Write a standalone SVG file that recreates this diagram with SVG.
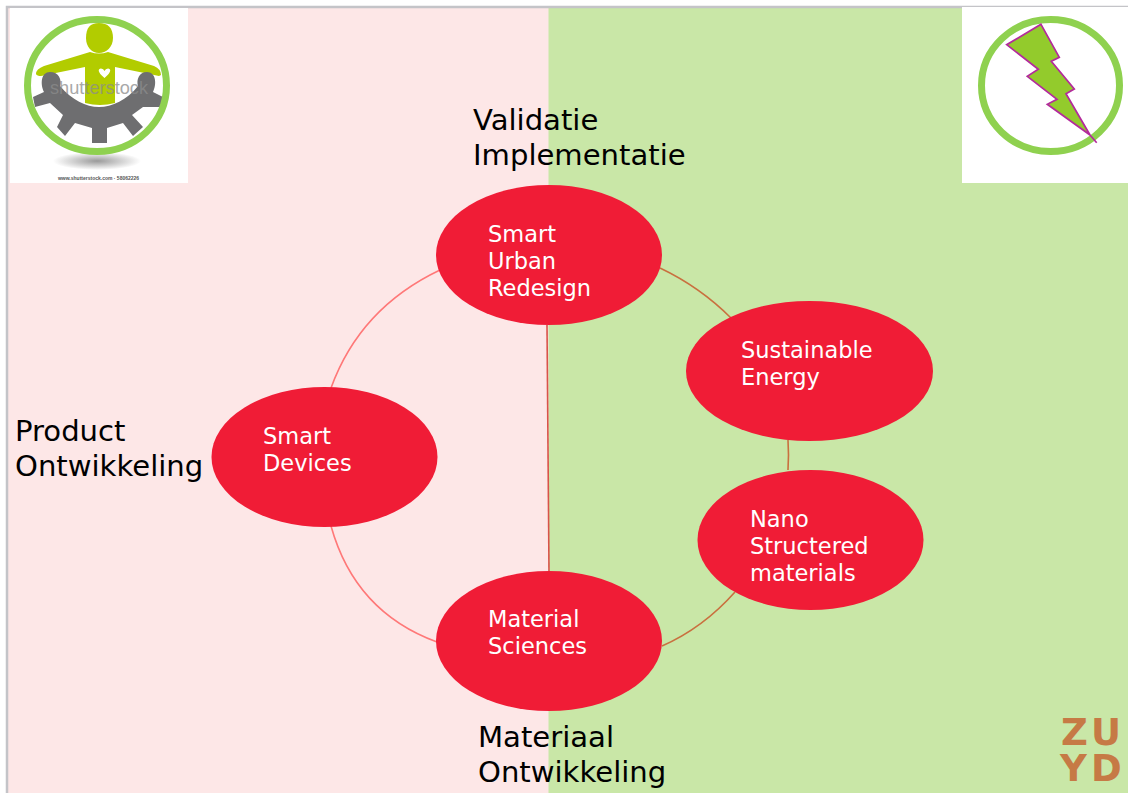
<svg xmlns="http://www.w3.org/2000/svg" width="1128" height="793" viewBox="0 0 1128 793">
<style>
.lbl{font-family:"DejaVu Sans",Verdana,sans-serif;font-size:29.1px;fill:#000}
.in{font-family:"DejaVu Sans",Verdana,sans-serif;font-size:22.5px;fill:#fff}
.el{fill:#f01c36}
.ring{fill:none;stroke:#8fd14f;stroke-width:7}
.pink{fill:none;stroke:#ff7878;stroke-width:1.6}
.brown{fill:none;stroke:#c9703f;stroke-width:1.6}
</style>
<defs>
<radialGradient id="shadow"><stop offset="0" stop-color="#9a9a9a"/><stop offset="1" stop-color="#fff"/></radialGradient>
</defs>
<rect width="1128" height="793" fill="#fff"/>
<rect x="8" y="7" width="541" height="786" fill="#fde7e7"/>
<rect x="548.500" y="7" width="579.500" height="786" fill="#c9e7a7"/>
<path d="M7 793V7H1128" fill="none" stroke="#c4c4c8" stroke-width="2.500"/>
<g id="logo-left">
<rect x="10" y="8" width="178" height="175" fill="#fff"/>
<ellipse cx="97" cy="161" rx="44" ry="9" fill="url(#shadow)"/>
<path d="M36 74 Q36 69 44 66 L90 52 Q99 55 108 52 L154 66 Q161 69 161 75 L159 76 L115 67 V103 Q100 107 85 103 V67 L41 76 Q37 76 36 74Z" fill="#b2cc00"/>
<path d="M86 38 C86 28 90 23 99 23 C108 23 113 28 113 38 C113 47 106 53 99 53 C92 53 86 47 86 38Z" fill="#b2cc00"/>
<path d="M104.500 78 C97 72 98 68.500 101 68.500 Q103.500 68.500 104.500 71 Q105.500 68.500 108 68.500 C111 68.500 112 72 104.500 78Z" fill="#fff"/>
<path d="M33 97 L44 92 C40 84 41 72 50 72 C59 72 62 80 60 86 C72 100 86 107 99 107 C112 107 127 100 138 86 C136 80 139 72 147 72 C156 72 157 84 153 92 L163 97 L161 107 L143 107 L132 115 L143 127 L133 136 L123 123 L107 128 V143 H92 V128 L75 123 L65 136 L57 127 L63 115 L50 103 L35 107 Z" fill="#6e6e70"/>
<text x="50" y="94" textLength="98" lengthAdjust="spacingAndGlyphs" font-family="'Liberation Sans',sans-serif" font-size="19" fill="#8c8c8c" opacity=".75">shutterstock</text>
<text x="98.500" y="180" text-anchor="middle" font-family="'Liberation Sans',sans-serif" font-size="5" font-weight="bold" fill="#555">www.shutterstock.com · 58062226</text>
<ellipse cx="97" cy="85.500" rx="69.500" ry="66" class="ring"/>
</g>
<g id="logo-right">
<rect x="962" y="7" width="166" height="176" fill="#fff"/>
<ellipse cx="1050.500" cy="85.500" rx="69" ry="66" class="ring"/>
<path d="M1041 24.300 1059.300 57.300 1051.300 61.300 1074.300 89 1066 93.700 1090 135 1047.300 104.300 1057 99.300 1027.300 76.300 1038.300 69.300 1006.700 44.700Z M1090 135 1096.700 142.700" fill="#93cb2c" stroke="#b32a9c" stroke-width="1.700"/>
</g>
<g id="connectors">
<path class="pink" d="M440 270 Q360 308 331 388"/>
<path class="pink" d="M331 526 Q355 612 437 642"/>
<path class="brown" d="M660 268 Q700 287 731 318"/>
<path class="brown" d="M788 440 Q789 455 788 470"/>
<path class="brown" d="M735 592 Q703 628 662 646"/>
<path d="M547 325 L549 571" fill="none" stroke="#d9534a" stroke-width="1.600"/>
</g>
<g id="smart-urban"><ellipse class="el" cx="549" cy="255" rx="113" ry="70"/>
<text class="in" x="488" y="242">Smart</text><text class="in" x="488" y="269">Urban</text><text class="in" x="488" y="296">Redesign</text></g>
<g id="sustainable-energy"><ellipse class="el" cx="809.500" cy="371" rx="123.500" ry="70"/>
<text class="in" x="741" y="358">Sustainable</text><text class="in" x="741" y="385">Energy</text></g>
<g id="smart-devices"><ellipse class="el" cx="324.500" cy="457" rx="113" ry="70"/>
<text class="in" x="263" y="444">Smart</text><text class="in" x="263" y="471">Devices</text></g>
<g id="nano"><ellipse class="el" cx="810.500" cy="540" rx="113" ry="70"/>
<text class="in" x="750" y="527">Nano</text><text class="in" x="750" y="554">Structered</text><text class="in" x="750" y="581">materials</text></g>
<g id="material-sciences"><ellipse class="el" cx="549" cy="641" rx="113" ry="70"/>
<text class="in" x="488" y="627">Material</text><text class="in" x="488" y="654">Sciences</text></g>
<g id="labels">
<text class="lbl" x="473" y="130">Validatie</text><text class="lbl" x="473" y="165">Implementatie</text>
<text class="lbl" x="15" y="441">Product</text><text class="lbl" x="15" y="476">Ontwikkeling</text>
<text class="lbl" x="478" y="747">Materiaal</text><text class="lbl" x="478" y="782">Ontwikkeling</text>
</g>
<g id="zuyd" font-family="'DejaVu Sans',Verdana,sans-serif" font-weight="bold" font-size="37" fill="#c67a45">
<text x="1061" y="745">Z</text><text x="1091" y="745">U</text><text x="1060" y="781">Y</text><text x="1091" y="781">D</text>
</g>
</svg>
